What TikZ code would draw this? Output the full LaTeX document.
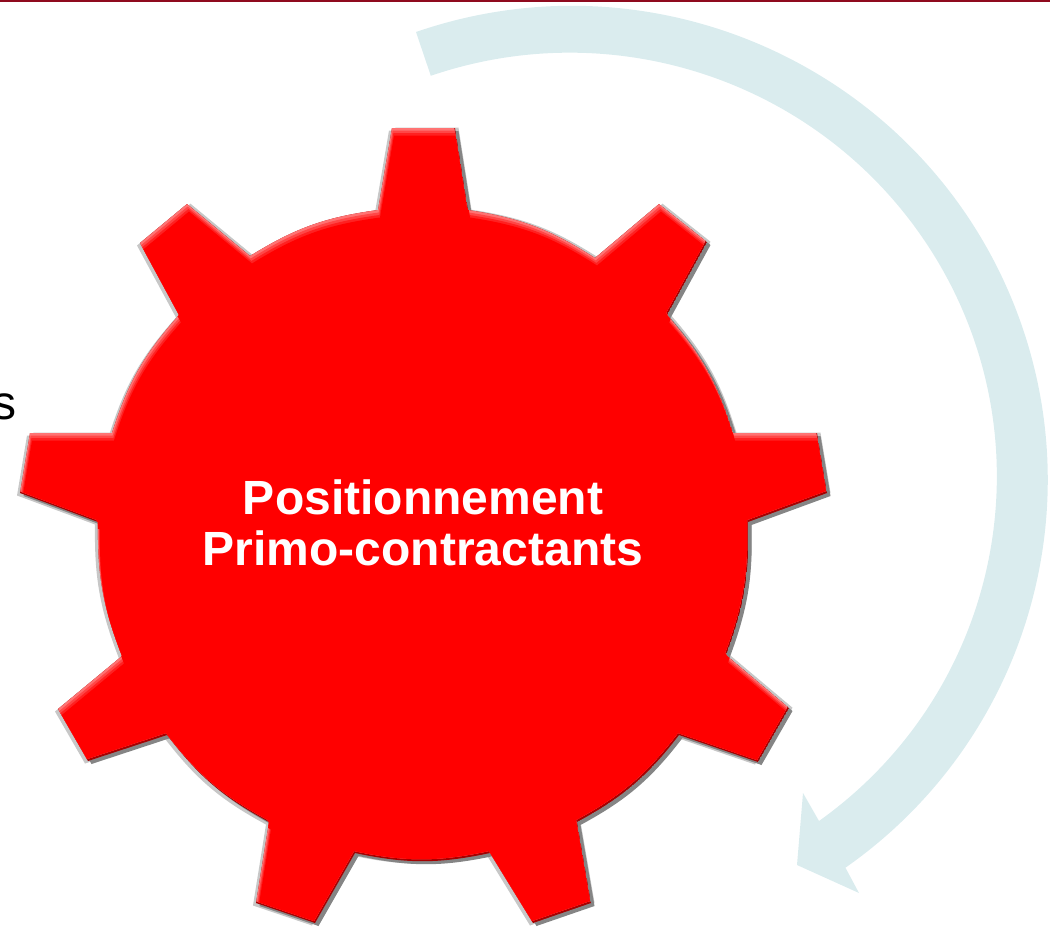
\documentclass[tikz,border=0pt]{standalone}
\usepackage{fontspec}
\setmainfont{Liberation Sans}
\usepackage{tikz}
\tikzstyle{sideA} = [fill=black!22]
\tikzstyle{sideB} = [fill=black!48]
\tikzstyle{title} = [text=white,font=\bfseries\fontsize{36}{38}\selectfont,align=center]
\definecolor{flow}{HTML}{DAECEE}
\definecolor{bar}{HTML}{8F0A1E}
\newcommand{\gearpath}{(378,210) -- (392,128) -- (455,128) -- (468,210) to[bend left=12]
    (595,258) -- (659,204) -- (707,242) -- (667,315) to[bend left=12]
    (733,433) -- (817,433) -- (827,493) -- (748,522) to[bend left=11]
    (726,655) -- (789,708) -- (758,762) -- (679,735) to[bend left=12]
    (577,822) -- (591,903) -- (533,923) -- (490,853) to[bend left=12]
    (355,853) -- (315,923) -- (256,903) -- (269,822) to[bend left=12]
    (167,735) -- (88,761) -- (58,709) -- (122,656) to[bend left=11]
    (98,522) -- (20,493) -- (30,433) -- (112,433) to[bend left=12]
    (179,315) -- (140,243) -- (187,204) -- (250,256) to[bend left=12] cycle}

\begin{document}
\begin{tikzpicture}[x=0.75pt,y=-0.75pt]
    \useasboundingbox (0,0) rectangle (1050,929);
    \fill[bar] (0,0) rectangle (1050,2);

    % arrow round the gear
    \fill[flow] (416,32) arc[start angle=-109.1,end angle=54.9,x radius=476,y radius=474]
        -- (859,893) -- (797,865) -- (803,793) -- (819,821)
        arc[start angle=54.3,end angle=-109,x radius=427,y radius=424] -- cycle;

    % edges
    \fill[sideA,shift={(3.5,-0.3)}] \gearpath;
    \fill[sideA,shift={(-3,2.5)}] \gearpath;
    \fill[sideB,shift={(3.5,3)}] \gearpath;

    % body
    \begin{scope}
        \clip \gearpath;
        \fill[red!65!black] \gearpath;
        \fill[red!55!white,shift={(-1,-2)}] \gearpath;
        \begin{scope}
            \clip[shift={(-1,-2)}] \gearpath;
            \fill[red!72!white,shift={(0.7,2.5)}] \gearpath;
            \fill[red!87!white,shift={(1.4,5)}] \gearpath;
            \fill[red,shift={(2,7.5)}] \gearpath;
        \end{scope}
    \end{scope}

    \node[title] (name) at (423,523) {Positionnement\\Primo-contractants};
    \node[anchor=base east,font=\fontsize{36}{40}\selectfont] (cut) at (21,419) {s};
\end{tikzpicture}
\end{document}
